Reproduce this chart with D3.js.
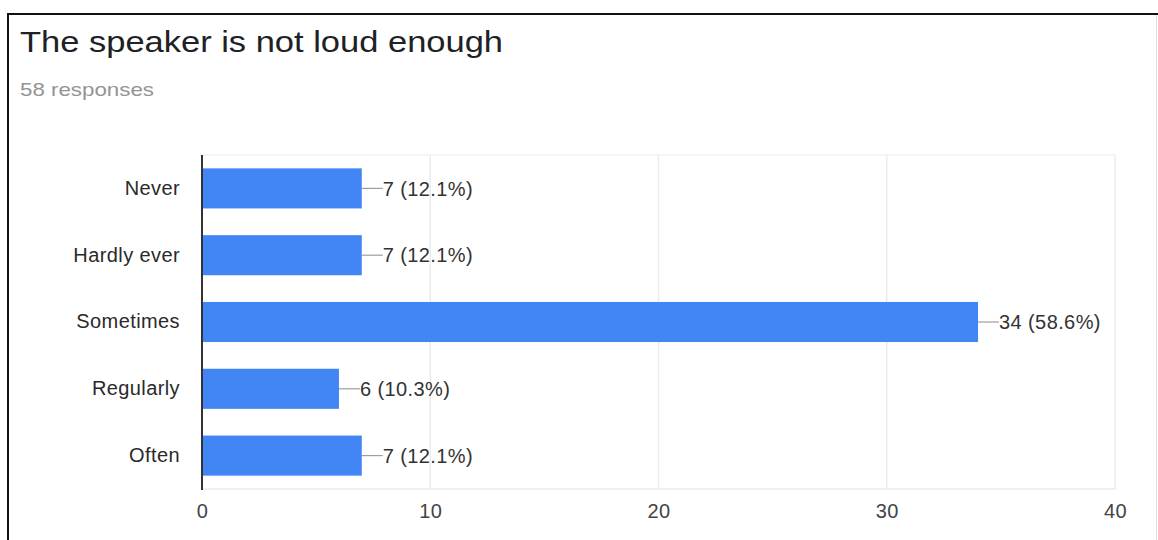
<!DOCTYPE html>
<html>
<head>
<meta charset="utf-8">
<script src="https://cdn.jsdelivr.net/npm/d3@7"></script>
<style>
  html, body { margin: 0; padding: 0; background: #fff; }
  svg { display: block; }
  text { font-family: Arial, "Liberation Sans", sans-serif; }
</style>
</head>
<body>
<svg id="chart" width="1158" height="540"></svg>
<script>
// Survey answers and counts
const categories = ["Never", "Hardly ever", "Sometimes", "Regularly", "Often"];
const counts = [7, 7, 34, 6, 7];
const totalResponses = 58;
const xTicks = [0, 10, 20, 30, 40];
const titleText = "The speaker is not loud enough";
const subtitleText = totalResponses + " responses";

const svg = d3.select("#chart");

// Card frame
svg.append("line").attr("x1", 7).attr("x2", 1158).attr("y1", 14).attr("y2", 14)
  .attr("stroke", "#111").attr("stroke-width", 2);
svg.append("line").attr("x1", 8).attr("x2", 8).attr("y1", 13).attr("y2", 540)
  .attr("stroke", "#111").attr("stroke-width", 2);
svg.append("line").attr("x1", 1156.5).attr("x2", 1156.5).attr("y1", 15).attr("y2", 540)
  .attr("stroke", "#dedede").attr("stroke-width", 1);

// Heading
svg.append("text").attr("x", 20).attr("y", 52)
  .attr("font-size", 30).attr("fill", "#202124")
  .attr("textLength", 483).attr("lengthAdjust", "spacingAndGlyphs")
  .text(titleText);
svg.append("text").attr("x", 20).attr("y", 96)
  .attr("font-size", 19).attr("fill", "#949494")
  .attr("textLength", 134).attr("lengthAdjust", "spacingAndGlyphs")
  .text(subtitleText);

// Plot area
const plotLeft = 202, plotRight = 1115, plotTop = 155, plotBottom = 489;

const x = d3.scaleLinear().domain([0, 40]).range([plotLeft, plotRight]);
const y = d3.scaleBand().domain(categories).range([plotTop, plotBottom])
  .paddingInner(0.4).paddingOuter(0.2);

// Grid
const grid = svg.append("g");
grid.selectAll("line.v").data(xTicks.slice(1)).join("line")
  .attr("x1", d => x(d)).attr("x2", d => x(d))
  .attr("y1", plotTop).attr("y2", plotBottom)
  .attr("stroke", "#ebebeb").attr("stroke-width", 1.5);
grid.append("line").attr("x1", plotLeft).attr("x2", plotRight).attr("y1", plotTop).attr("y2", plotTop)
  .attr("stroke", "#f2f2f2").attr("stroke-width", 1.5);
grid.append("line").attr("x1", plotLeft).attr("x2", plotRight).attr("y1", plotBottom).attr("y2", plotBottom)
  .attr("stroke", "#ebebeb").attr("stroke-width", 1.5);

// Bars
const rows = categories.map((c, i) => ({ cat: c, v: counts[i] }));
svg.append("g").selectAll("rect").data(rows).join("rect")
  .attr("x", x(0)).attr("y", d => y(d.cat))
  .attr("width", d => x(d.v) - x(0)).attr("height", y.bandwidth())
  .attr("fill", "#4285f4");

// Value labels with leader lines
const lab = svg.append("g").selectAll("g").data(rows).join("g");
lab.append("line")
  .attr("x1", d => x(d.v)).attr("x2", d => x(d.v) + 21)
  .attr("y1", d => y(d.cat) + y.bandwidth() / 2)
  .attr("y2", d => y(d.cat) + y.bandwidth() / 2)
  .attr("stroke", "#9e9e9e").attr("stroke-width", 1.2);
lab.append("text")
  .attr("x", d => x(d.v) + 21)
  .attr("y", d => y(d.cat) + y.bandwidth() / 2)
  .attr("dy", "0.36em")
  .attr("font-size", 20).attr("fill", "#333")
  .attr("letter-spacing", 0.4)
  .text(d => d.v + " (" + (d.v / totalResponses * 100).toFixed(1) + "%)");

// Category axis
const yAxis = svg.append("g").attr("transform", `translate(${plotLeft},0)`)
  .call(d3.axisLeft(y).tickSize(0).tickPadding(22));
yAxis.select(".domain").attr("stroke", "#333").attr("stroke-width", 2)
  .attr("d", `M0,${plotTop}V${plotBottom + 1}`);
yAxis.selectAll("text").attr("font-size", 20).attr("fill", "#2a2a2a")
  .attr("letter-spacing", 0.4)
  .attr("font-family", "Arial, 'Liberation Sans', sans-serif");

// Value axis
const xAxis = svg.append("g").attr("transform", `translate(0,${plotBottom})`)
  .call(d3.axisBottom(x).tickValues(xTicks).tickSize(0).tickPadding(15));
xAxis.select(".domain").remove();
xAxis.selectAll("text").attr("font-size", 20).attr("fill", "#444")
  .attr("letter-spacing", 0.4)
  .attr("font-family", "Arial, 'Liberation Sans', sans-serif");
</script>
</body>
</html>
